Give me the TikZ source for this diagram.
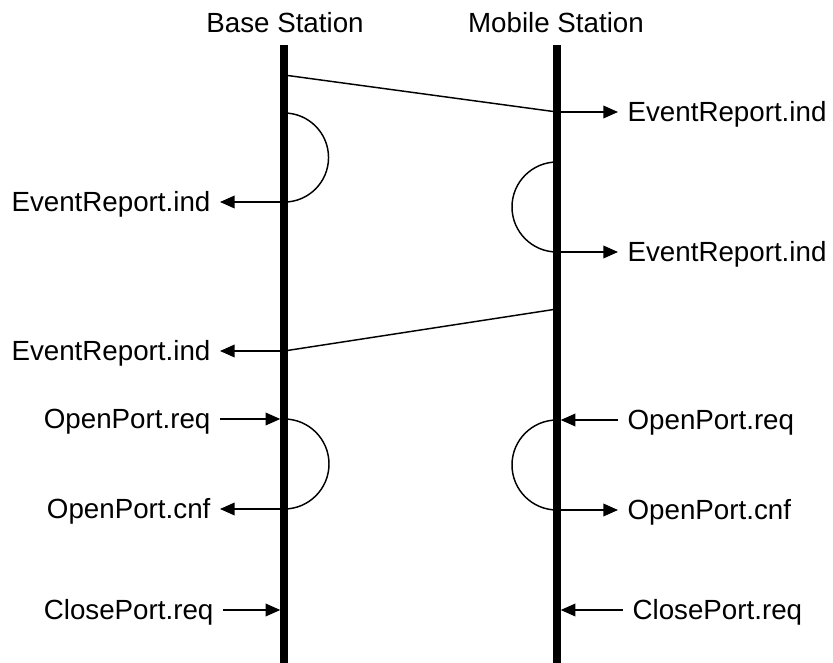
\documentclass[tikz,border=0pt]{standalone}
\usepackage{fontspec}
\setmainfont{Liberation Sans}
\usetikzlibrary{arrows.meta}

\begin{document}
\begin{tikzpicture}[x=0.75pt, y=-0.75pt,
		life/.style={line width=5.6pt},
		msg/.style={line width=1.1pt},
		sig/.style={msg, -{Triangle[length=11pt, width=9.5pt]}},
		sigin/.style={sig, shorten >=2.8pt},
		lbl/.style={font=\fontsize{20.8}{25}\selectfont, text height=14.9pt, text depth=0pt, inner xsep=7pt, inner ysep=0pt}]
		\useasboundingbox (0,0) rectangle (833,663);
		\node[lbl, anchor=base] (BS) at (285,33) {Base Station};
		\node[lbl, anchor=base] (MS) at (556,33) {Mobile Station};
		\coordinate (BT) at (284,45);
		\coordinate (BB) at (284,663);
		\coordinate (MT) at (557,45);
		\coordinate (MB) at (557,663);
		\draw[life] (BT) -- (BB);
		\draw[life] (MT) -- (MB);
		\coordinate (A) at (284,75);
		\coordinate (B) at (557,112);
		\coordinate (C) at (284,113);
		\coordinate (D) at (284,202);
		\coordinate (E) at (557,162);
		\coordinate (F) at (557,252);
		\coordinate (G) at (557,309);
		\coordinate (H) at (284,351);
		\coordinate (I) at (284,419);
		\coordinate (J) at (284,509);
		\coordinate (K) at (557,420);
		\coordinate (L) at (557,510);
		\coordinate (M) at (284,610);
		\coordinate (N) at (557,610);
		\node[lbl, anchor=west] (ER1) at (618,112) {EventReport.ind};
		\node[lbl, anchor=east] (ER2) at (220,202) {EventReport.ind};
		\node[lbl, anchor=west] (ER3) at (618,252) {EventReport.ind};
		\node[lbl, anchor=east] (ER4) at (220,351) {EventReport.ind};
		\node[lbl, anchor=east] (OR1) at (220,419) {OpenPort.req};
		\node[lbl, anchor=east] (OC1) at (220,509) {OpenPort.cnf};
		\node[lbl, anchor=west] (OR2) at (618,420) {OpenPort.req};
		\node[lbl, anchor=west] (OC2) at (618,510) {OpenPort.cnf};
		\node[lbl, anchor=east] (CR1) at (223,610) {ClosePort.req};
		\node[lbl, anchor=west] (CR2) at (623,610) {ClosePort.req};
		\draw[msg] (A) -- (B);
		\draw[sig] (B) -- (ER1.west);
		\draw[msg] (C) arc[start angle=90, end angle=-90, radius=33.4pt];
		\draw[sig] (D) -- (ER2.east);
		\draw[msg] (E) arc[start angle=90, end angle=270, radius=33.75pt];
		\draw[sig] (F) -- (ER3.west);
		\draw[msg] (G) -- (H);
		\draw[sig] (H) -- (ER4.east);
		\draw[sigin] (OR1.east) -- (I);
		\draw[msg] (I) arc[start angle=90, end angle=-90, radius=33.75pt];
		\draw[sig] (J) -- (OC1.east);
		\draw[sigin] (OR2.west) -- (K);
		\draw[msg] (K) arc[start angle=90, end angle=270, radius=33.75pt];
		\draw[sig] (L) -- (OC2.west);
		\draw[sigin] (CR1.east) -- (M);
		\draw[sigin] (CR2.west) -- (N);
	\end{tikzpicture}
\end{document}
